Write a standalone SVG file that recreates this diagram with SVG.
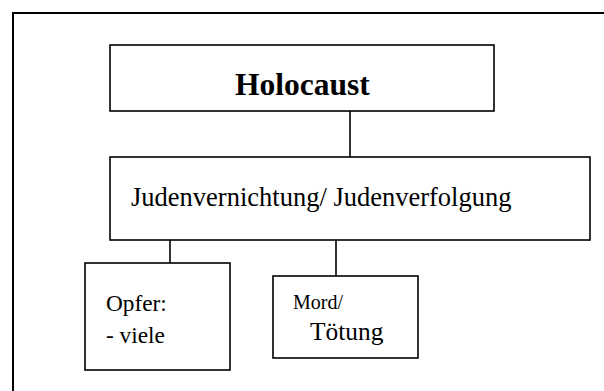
<svg xmlns="http://www.w3.org/2000/svg" width="604" height="391" viewBox="0 0 604 391">
<style>
.box{fill:#fff;stroke:#000;stroke-width:1.6}
.frame{fill:none;stroke:#000;stroke-width:2}
.con{stroke:#000;stroke-width:1.6;fill:none}
.t{font-family:'Liberation Serif','Times New Roman',Times,serif;fill:#000}
</style>
<rect x="0" y="0" width="604" height="391" fill="#fff"/>
<path class="frame" d="M13 391 V13 H604"/>
<g id="connectors">
<line class="con" x1="350" y1="111" x2="350" y2="157"/>
<line class="con" x1="170" y1="240" x2="170" y2="263"/>
<line class="con" x1="336" y1="240" x2="336" y2="276"/>
</g>
<g id="holocaust">
<rect class="box" x="110" y="45" width="384" height="66"/>
<text class="t" x="302.5" y="95" text-anchor="middle" font-size="31.5" font-weight="bold" font-family="Liberation Serif, serif">Holocaust</text>
</g>
<g id="judenvernichtung">
<rect class="box" x="110" y="157" width="480" height="83"/>
<text class="t" x="131" y="206" font-size="26.5" font-family="Liberation Serif, serif">Judenvernichtung/ Judenverfolgung</text>
</g>
<g id="opfer">
<rect class="box" x="85" y="263" width="145" height="107"/>
<text class="t" x="106" y="311" font-size="23.3" font-family="Liberation Serif, serif">Opfer:</text>
<text class="t" x="106" y="343" font-size="23.3" font-family="Liberation Serif, serif">- viele</text>
</g>
<g id="mord">
<rect class="box" x="273" y="276" width="145" height="82"/>
<text class="t" x="293" y="309" font-size="20" font-family="Liberation Serif, serif">Mord/</text>
<text class="t" x="310" y="340" font-size="25.4" font-family="Liberation Serif, serif">Tötung</text>
</g>
</svg>
